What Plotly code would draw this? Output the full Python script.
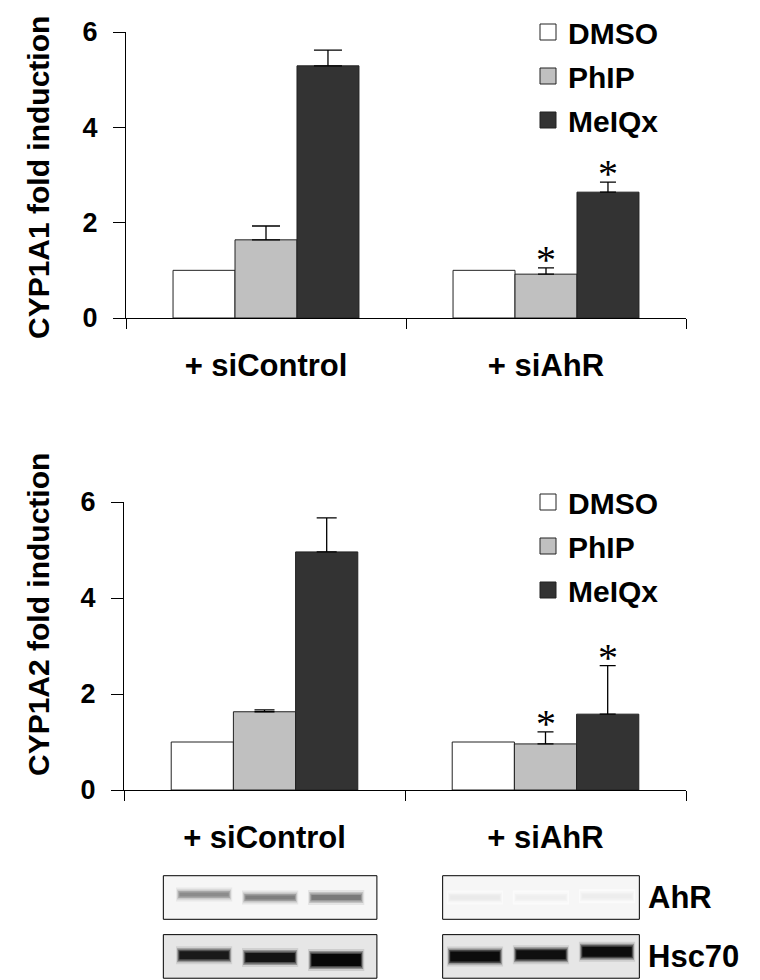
import plotly.graph_objects as go

# 데이터
groups = ['+ siControl', '+ siAhR']
treatments = ['DMSO', 'PhIP', 'MeIQx']

cyp1a1_mean = {'DMSO': [1.0, 1.0], 'PhIP': [1.64, 0.92], 'MeIQx': [5.29, 2.64]}
cyp1a1_err = {'DMSO': [0, 0], 'PhIP': [0.29, 0.13], 'MeIQx': [0.33, 0.21]}
cyp1a1_sig = {'DMSO': [False, False], 'PhIP': [False, True], 'MeIQx': [False, True]}

cyp1a2_mean = {'DMSO': [1.0, 1.0], 'PhIP': [1.63, 0.96], 'MeIQx': [4.96, 1.58]}
cyp1a2_err = {'DMSO': [0, 0], 'PhIP': [0.04, 0.25], 'MeIQx': [0.71, 1.01]}
cyp1a2_sig = {'DMSO': [False, False], 'PhIP': [False, True], 'MeIQx': [False, True]}

y_ticks = [0, 2, 4, 6]

# 웨스턴 블롯 밴드 강도 (0 = 없음, 1 = 검정)
blot_rows = ['AhR', 'Hsc70']
ahr_band = {'+ siControl': [0.45, 0.5, 0.52], '+ siAhR': [0.08, 0.06, 0.07]}
hsc70_band = {'+ siControl': [0.9, 0.92, 0.97], '+ siAhR': [0.95, 0.94, 0.95]}

# 스타일
colors = {'DMSO': '#ffffff', 'PhIP': '#c0c0c0', 'MeIQx': '#333333'}
FONT = 'Liberation Sans, Arial, sans-serif'
cap_width = {'top': [14, 8], 'bottom': [10, 8]}
lane_offset = [-0.235, 0.0, 0.235]
box_center = [0.02, -0.016]
box_half = [0.38, 0.35]
band_dy = {'AhR': [[0.05, 0.0, 0.0], [0.0, 0.0, 0.02]],
           'Hsc70': [[0.02, -0.02, -0.06], [0.0, 0.03, 0.08]]}
band_w = {'AhR': [[4, 4, 5], [4, 4, 4]],
          'Hsc70': [[8, 9, 12], [10, 9, 10]]}

# 페이지 body 여백(8px) 보정
OFF = 8
W, H = 752, 972


def px(x):
    return (x - OFF) / W


def py(y):
    return 1 - (y - OFF) / H


fig = go.Figure()


def add_chart(mean, err, sig, xa, ya, legend, caps):
    """막대 + 에러바 + 유의성 표시"""
    for t in treatments:
        for gi, g in enumerate(groups):
            fig.add_trace(go.Bar(
                x=[g], y=[mean[t][gi]],
                offsetgroup=t,
                marker=dict(color=colors[t], line=dict(color='#222222', width=1)),
                error_y=dict(type='data', array=[err[t][gi]], arrayminus=[0],
                             symmetric=False, visible=err[t][gi] > 0,
                             color='black', thickness=1.3, width=caps[gi]),
                xaxis=xa, yaxis=ya, showlegend=False, hoverinfo='skip'
            ))
        # 범례용 더미
        fig.add_trace(go.Scatter(
            x=[None], y=[None], mode='markers', name=t,
            marker=dict(symbol='square', size=16, color=colors[t],
                        line=dict(color='#222222', width=1)),
            xaxis=xa, yaxis=ya, legend=legend, legendgroup=legend + t
        ))

    for ti, t in enumerate(treatments):
        for gi, g in enumerate(groups):
            if sig[t][gi]:
                fig.add_annotation(
                    x=g, y=mean[t][gi] + err[t][gi], xref=xa, yref=ya,
                    text='*', showarrow=False, yanchor='bottom',
                    xshift=(ti - 1) * 62, yshift=-16,
                    font=dict(family='Liberation Serif, Times New Roman', size=40, color='black')
                )


add_chart(cyp1a1_mean, cyp1a1_err, cyp1a1_sig, 'x', 'y', 'legend', cap_width['top'])
add_chart(cyp1a2_mean, cyp1a2_err, cyp1a2_sig, 'x2', 'y2', 'legend2', cap_width['bottom'])

# 블롯
for gi, g in enumerate(groups):
    for ri, row in enumerate(blot_rows):
        yc = 1 - ri
        fig.add_shape(
            type='rect', xref='x3', yref='y3',
            x0=gi + box_center[gi] - box_half[gi], x1=gi + box_center[gi] + box_half[gi],
            y0=yc - 0.37, y1=yc + 0.37,
            fillcolor='#f6f6f6' if row == 'AhR' else '#e6e6e6',
            line=dict(color='black', width=1), layer='below'
        )
    for li in range(3):
        xc = gi + box_center[gi] + lane_offset[li]
        for row, bands in [('AhR', ahr_band), ('Hsc70', hsc70_band)]:
            yc = (1 if row == 'AhR' else 0) + band_dy[row][gi][li]
            v = bands[g][li]
            w = band_w[row][gi][li]
            # 번진 밴드: 바깥(연함) -> 안쪽(진함)
            for k, (scale, extra) in enumerate([(0.2, 10), (0.45, 6), (0.75, 3), (1.0, 0)]):
                gray = int(255 * (1 - v * scale))
                half = 0.1 - k * 0.004
                fig.add_trace(go.Scatter(
                    x=[xc - half, xc + half], y=[yc, yc],
                    mode='lines', line=dict(color=f'rgb({gray},{gray},{gray})', width=w + extra),
                    xaxis='x3', yaxis='y3', showlegend=False, hoverinfo='skip'
                ))

axis_common = dict(showline=True, linecolor='black', linewidth=1.3, automargin=False,
                   ticks='outside', tickcolor='black', showgrid=False, zeroline=False)

fig.update_layout(
    width=W, height=H,
    margin=dict(l=0, r=0, t=0, b=0, autoexpand=False),
    paper_bgcolor='white', plot_bgcolor='white',
    barmode='group', bargap=0.336, bargroupgap=0,
    font=dict(family=FONT, color='black'),
    xaxis=dict(domain=[px(126), px(686)], anchor='y', type='category',
               range=[-0.5, 1.5], tickson='boundaries', ticklen=10,
               tickfont=dict(size=31, weight='bold'), ticklabelstandoff=20, **axis_common),
    yaxis=dict(domain=[py(318), py(32)], anchor='x', range=[0, 6],
               tickvals=y_ticks, ticklen=12, ticklabelstandoff=10,
               tickfont=dict(size=27, weight='bold'), **axis_common),
    xaxis2=dict(domain=[px(124), px(686)], anchor='y2', type='category',
                range=[-0.5, 1.5], tickson='boundaries', ticklen=10,
                tickfont=dict(size=31, weight='bold'), ticklabelstandoff=20, **axis_common),
    yaxis2=dict(domain=[py(790), py(502)], anchor='x2', range=[0, 6],
                tickvals=y_ticks, ticklen=12, ticklabelstandoff=10,
                tickfont=dict(size=27, weight='bold'), **axis_common),
    xaxis3=dict(domain=[px(124), px(686)], anchor='y3', range=[-0.5, 1.5],
                visible=False, automargin=False),
    yaxis3=dict(domain=[py(980), py(871)], range=[-0.4, 1.45], anchor='free', position=px(647),
                side='right', tickvals=[1, 0], ticktext=blot_rows, showline=False,
                showgrid=False, zeroline=False, ticks='', automargin=False,
                tickfont=dict(size=31, weight='bold')),
    legend=dict(x=px(528), y=py(6), xanchor='left', yanchor='top',
                font=dict(size=30, weight='bold'), itemsizing='trace',
                tracegroupgap=2, bgcolor='rgba(0,0,0,0)'),
    legend2=dict(x=px(528), y=py(476), xanchor='left', yanchor='top',
                 font=dict(size=30, weight='bold'), itemsizing='trace',
                 tracegroupgap=2, bgcolor='rgba(0,0,0,0)'),
)

# y축 제목
for txt, yc in [('CYP1A1 fold induction', 178), ('CYP1A2 fold induction', 615)]:
    fig.add_annotation(
        x=px(38), y=py(yc), xref='paper', yref='paper',
        text=txt, textangle=-90, showarrow=False,
        xanchor='center', yanchor='middle',
        font=dict(size=30, weight='bold', family=FONT)
    )

fig.write_html("out.html")
